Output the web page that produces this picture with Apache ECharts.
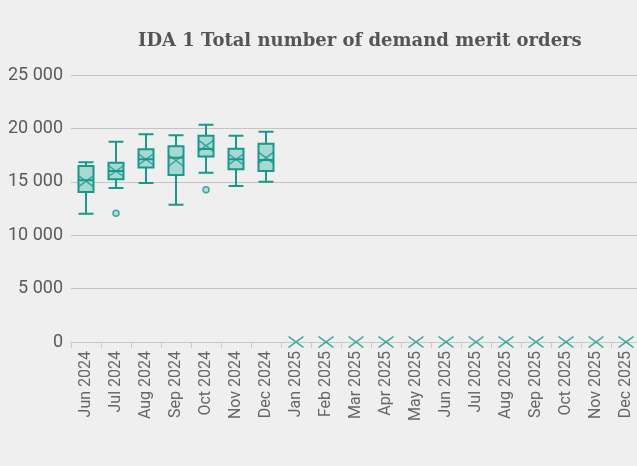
<!DOCTYPE html>
<html>
<head>
<meta charset="utf-8">
<script src="https://cdn.jsdelivr.net/npm/echarts@6/dist/echarts.min.js"></script>
<style>
  html, body { margin: 0; padding: 0; background: #efefef; overflow: hidden; }
  #chart { width: 641px; height: 466px; }
</style>
</head>
<body>
<div id="chart"></div>
<script>
// Monthly categories
const months = [
  'Jun 2024', 'Jul 2024', 'Aug 2024', 'Sep 2024', 'Oct 2024', 'Nov 2024', 'Dec 2024',
  'Jan 2025', 'Feb 2025', 'Mar 2025', 'Apr 2025', 'May 2025', 'Jun 2025', 'Jul 2025',
  'Aug 2025', 'Sep 2025', 'Oct 2025', 'Nov 2025', 'Dec 2025'
];

// Box statistics per month: [min, Q1, median, Q3, max]; null where no data
const boxStats = [
  [12000, 14050, 15150, 16480, 16830],
  [14420, 15230, 16000, 16790, 18750],
  [14890, 16350, 17100, 18040, 19450],
  [12850, 15640, 17250, 18320, 19350],
  [15850, 17380, 18070, 19320, 20350],
  [14600, 16170, 17100, 18100, 19320],
  [15010, 16010, 17040, 18570, 19690],
  null, null, null, null, null, null, null, null, null, null, null, null
];

// Monthly mean values
const means = [
  15050, 16000, 17100, 16980, 18380, 17100, 17250,
  0, 0, 0, 0, 0, 0, 0, 0, 0, 0, 0, 0
];

// Outliers: [month, value]
const outliers = [
  ['Jul 2024', 12050],
  ['Oct 2024', 14260]
];

// Y axis ticks
const yMax = 25000;
const yStep = 5000;

const teal = '#17998c';
const tealFill = '#a7d8d2';

const chart = echarts.init(document.getElementById('chart'), null, { renderer: 'canvas' });

chart.setOption({
  backgroundColor: '#efefef',
  animation: false,
  title: {
    text: 'IDA 1 Total number of demand merit orders',
    left: 133,
    top: 27,
    textStyle: {
      fontFamily: 'DejaVu Serif',
      fontWeight: 'bold',
      fontSize: 18,
      color: '#555555'
    }
  },
  grid: { left: 71, right: 0, top: 75, bottom: 124 },
  xAxis: {
    type: 'category',
    data: months,
    boundaryGap: true,
    axisLine: { show: true, lineStyle: { color: '#c8c8c8', width: 1 } },
    axisTick: { show: true, alignWithLabel: false, length: 6, lineStyle: { color: '#cccccc' } },
    axisLabel: {
      rotate: 90,
      interval: 0,
      margin: 9,
      fontFamily: 'Roboto',
      fontSize: 16,
      color: '#666666'
    },
    splitLine: { show: false }
  },
  yAxis: {
    type: 'value',
    min: 0,
    max: yMax,
    interval: yStep,
    axisLine: { show: false },
    axisTick: { show: false },
    axisLabel: {
      margin: 8,
      fontFamily: 'Roboto',
      fontSize: 18,
      color: '#5a5a5a',
      formatter: v => String(v).replace(/\B(?=(\d{3})+(?!\d))/g, ' ')
    },
    splitLine: { lineStyle: { color: '#c4c4c4', width: 1 } }
  },
  series: [
    {
      type: 'boxplot',
      data: boxStats.map(d => d === null ? ['-', '-', '-', '-', '-'] : d),
      boxWidth: [15, 15],
      itemStyle: { color: tealFill, borderColor: teal, borderWidth: 2 },
      emphasis: { disabled: true }
    },
    {
      type: 'scatter',
      data: outliers,
      symbol: 'circle',
      symbolSize: 6,
      itemStyle: { color: tealFill, borderColor: teal, borderWidth: 1.5 },
      z: 3
    },
    {
      type: 'scatter',
      data: means,
      symbol: 'path://M0,0L16,10M16,0L0,10',
      symbolSize: [15, 11],
      itemStyle: { color: 'none', borderColor: teal, borderWidth: 1.5 },
      z: 4
    }
  ]
});
</script>
</body>
</html>
